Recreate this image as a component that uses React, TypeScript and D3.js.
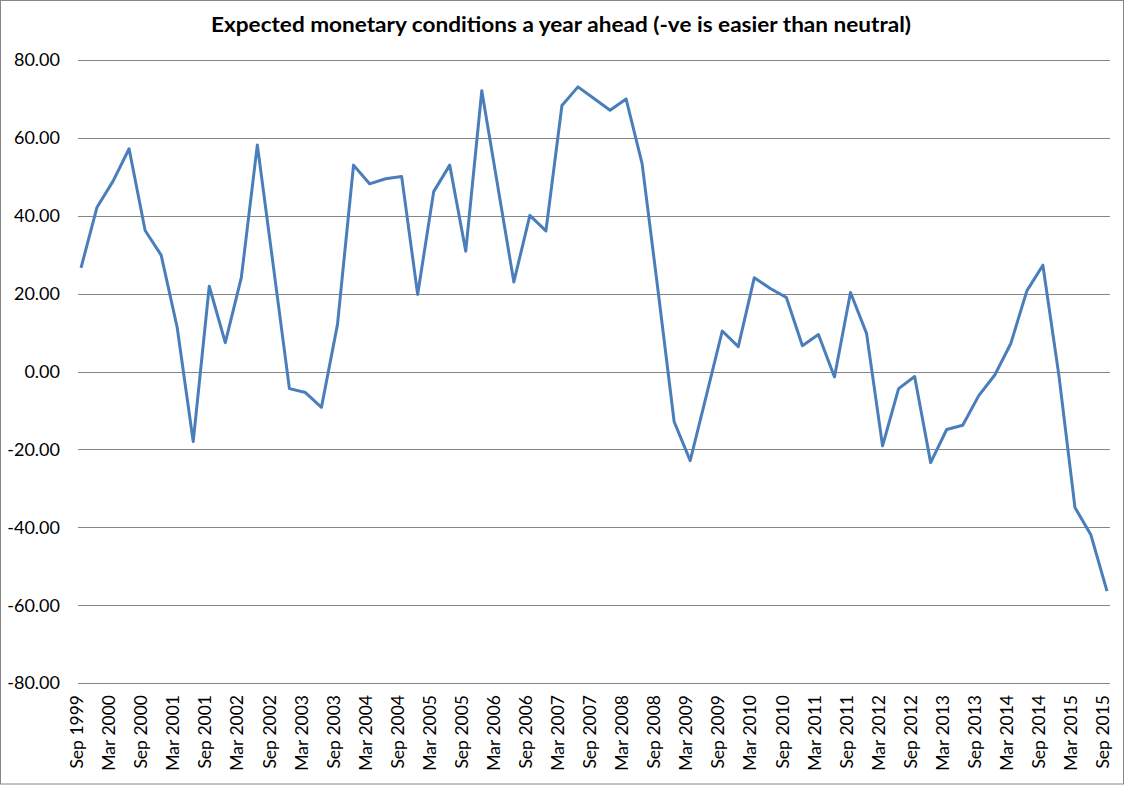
import React from 'react';
import * as d3 from 'd3';

const title = 'Expected monetary conditions a year ahead (-ve is easier than neutral)';

// quarterly survey values, Sep 1999 .. Sep 2015
const values = [
  26.6, 42.2, 48.9, 57.2, 36.2, 29.9, 11.3, -18.0, 21.9, 7.4,
  24.1, 58.2, 27.0, -4.4, -5.4, -9.2, 12.1, 53.0, 48.2, 49.5,
  50.1, 19.8, 46.2, 53.0, 30.9, 72.1, 47.5, 23.0, 40.1, 36.1,
  68.3, 73.1, 70.1, 67.1, 70.0, 53.4, 20.6, -12.9, -22.9, -6.3,
  10.4, 6.4, 24.1, 21.3, 19.0, 6.6, 9.5, -1.4, 20.3, 9.8,
  -19.1, -4.4, -1.3, -23.4, -14.9, -13.8, -6.2, -0.9, 7.2, 20.7,
  27.3, -1.0, -34.9, -42.0, -56.4,
];

// quarter labels (every quarter); the axis shows every second one
const quarters = [
  'Sep 1999', 'Dec 1999', 'Mar 2000', 'Jun 2000', 'Sep 2000', 'Dec 2000', 'Mar 2001', 'Jun 2001',
  'Sep 2001', 'Dec 2001', 'Mar 2002', 'Jun 2002', 'Sep 2002', 'Dec 2002', 'Mar 2003', 'Jun 2003',
  'Sep 2003', 'Dec 2003', 'Mar 2004', 'Jun 2004', 'Sep 2004', 'Dec 2004', 'Mar 2005', 'Jun 2005',
  'Sep 2005', 'Dec 2005', 'Mar 2006', 'Jun 2006', 'Sep 2006', 'Dec 2006', 'Mar 2007', 'Jun 2007',
  'Sep 2007', 'Dec 2007', 'Mar 2008', 'Jun 2008', 'Sep 2008', 'Dec 2008', 'Mar 2009', 'Jun 2009',
  'Sep 2009', 'Dec 2009', 'Mar 2010', 'Jun 2010', 'Sep 2010', 'Dec 2010', 'Mar 2011', 'Jun 2011',
  'Sep 2011', 'Dec 2011', 'Mar 2012', 'Jun 2012', 'Sep 2012', 'Dec 2012', 'Mar 2013', 'Jun 2013',
  'Sep 2013', 'Dec 2013', 'Mar 2014', 'Jun 2014', 'Sep 2014', 'Dec 2014', 'Mar 2015', 'Jun 2015',
  'Sep 2015',
];

const yTicks = [80, 60, 40, 20, 0, -20, -40, -60, -80];

const width = 1125;
const height = 785;
const font = 'Lato, "Open Sans", sans-serif';

export default function App() {
  const x = d3.scalePoint<string>().domain(quarters).range([81, 1107]);
  const y = d3.scaleLinear().domain([-80, 80]).range([683, 60]);
  // Excel-style labels use a plain hyphen for negatives
  const fmt = (v: number) => d3.format('.2f')(v).replace('\u2212', '-');

  const line = d3.line<number>()
    .x((_, i) => x(quarters[i]) as number)
    .y(d => y(d));

  const shown = quarters.filter((_, i) => i % 2 === 0);

  return (
    <div style={{ position: 'absolute', left: 0, top: 0 }}>
      <svg width={width} height={height} style={{ display: 'block', fontFamily: font }}>
        <rect x={0.5} y={0.5} width={width - 2} height={height - 1.5} fill="white" stroke="#868686" />
        <text
          x={561}
          y={32}
          textAnchor="middle"
          fontSize={20}
          fontWeight="bold"
          fill="#000"
          textLength={700}
          lengthAdjust="spacingAndGlyphs"
        >
          {title}
        </text>

        {/* gridlines + y labels */}
        {yTicks.map(t => (
          <g key={t}>
            <line x1={78} x2={1110} y1={Math.round(y(t)) + 0.5} y2={Math.round(y(t)) + 0.5} stroke="#868686" />
            <text x={60} y={y(t)} dy="0.36em" textAnchor="end" fontSize={18} fill="#000">
              {fmt(t)}
            </text>
          </g>
        ))}

        {/* x labels */}
        {shown.map(q => (
          <text
            key={q}
            transform={`translate(${(x(q) as number) - 4},695) rotate(-90)`}
            dy="0.35em"
            textAnchor="end"
            fontSize={17.5}
            fill="#000"
          >
            {q}
          </text>
        ))}

        <path d={line(values) || ''} fill="none" stroke="#4a7ebb" strokeWidth={3} strokeLinejoin="round" />
      </svg>
    </div>
  );
}
